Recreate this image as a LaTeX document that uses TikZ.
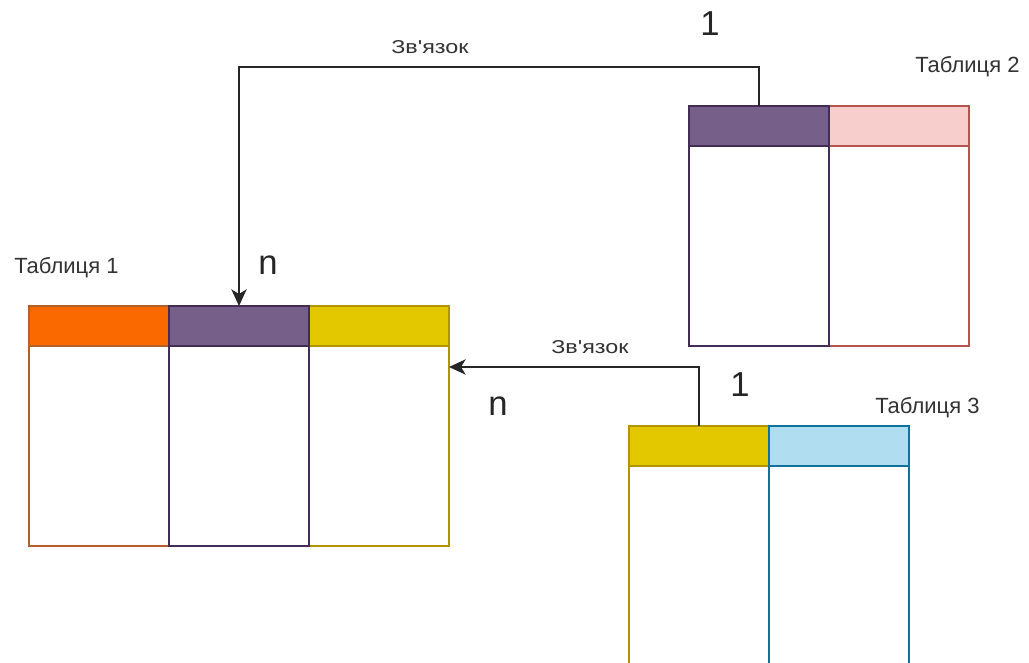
\documentclass[tikz,border=0pt]{standalone}
\usepackage{fontspec}
\setmainfont{Liberation Sans}
\newfontfamily\widesans{Liberation Sans}[FakeStretch=1.25]
\usetikzlibrary{arrows.meta}
\definecolor{orF}{HTML}{FA6800}
\definecolor{orS}{HTML}{B5602A}
\definecolor{puF}{HTML}{76608A}
\definecolor{puS}{HTML}{432D57}
\definecolor{yeF}{HTML}{E3C800}
\definecolor{yeS}{HTML}{B09500}
\definecolor{piF}{HTML}{F8CECC}
\definecolor{piS}{HTML}{B85450}
\definecolor{blF}{HTML}{B1DDF0}
\definecolor{blS}{HTML}{10739E}
\definecolor{txt}{HTML}{333333}
\begin{document}
\begin{tikzpicture}[x=0.75pt,y=-0.75pt,
  colbox/.style={draw, line width=0.9pt, minimum width=105pt, minimum height=150pt, anchor=north west, inner sep=0pt, outer sep=0pt},
  headbox/.style={draw, line width=0.9pt, minimum width=105pt, minimum height=30pt, anchor=north west, inner sep=0pt, outer sep=0pt},
  link/.style={draw=black!85, line width=1.2pt, -{Stealth[length=12.5pt,width=11.5pt,inset=3.5pt]}},
  tname/.style={text=txt, inner sep=0pt, font=\fontsize{16.5}{18}\selectfont},
  lbl/.style={text=txt, inner sep=0pt, font=\widesans\fontsize{14}{16}\selectfont},
  card/.style={text=black!85, inner sep=0pt, font=\fontsize{26}{28}\selectfont}]
\useasboundingbox (0,0) rectangle (1029,663);
\fill[white] (0,0) rectangle (1029,663);
% Table 1
\node[colbox, draw=orS] (t1b1) at (29,346) {};
\node[headbox, fill=orF, draw=orS] (t1h1) at (29,306) {};
\node[colbox, draw=yeS] (t1b3) at (309,346) {};
\node[headbox, fill=yeF, draw=yeS] (t1h3) at (309,306) {};
\node[colbox, draw=puS] (t1b2) at (169,346) {};
\node[headbox, fill=puF, draw=puS] (t1h2) at (169,306) {};
% Table 2
\node[colbox, draw=piS] (t2b2) at (829,146) {};
\node[headbox, fill=piF, draw=piS] (t2h2) at (829,106) {};
\node[colbox, draw=puS] (t2b1) at (689,146) {};
\node[headbox, fill=puF, draw=puS] (t2h1) at (689,106) {};
% Table 3
\node[colbox, draw=yeS] (t3b1) at (629,466) {};
\node[headbox, fill=yeF, draw=yeS] (t3h1) at (629,426) {};
\node[colbox, draw=blS] (t3b2) at (769,466) {};
\node[headbox, fill=blF, draw=blS] (t3h2) at (769,426) {};
% Labels
\node[tname, anchor=west] (l1) at (14,268) {Таблиця 1};
\node[tname, anchor=west] (l2) at (915,67) {Таблиця 2};
\node[tname, anchor=west] (l3) at (875,408) {Таблиця 3};
\node[lbl] (r1) at (430,47) {Зв\symbol{39}язок};
\node[lbl] (r2) at (590,347) {Зв\symbol{39}язок};
\node[card] (one1) at (710,24) {1};
\node[card] (one2) at (740,385) {1};
\node[card] (n1) at (268,265) {n};
\node[card] (n2) at (498,406) {n};
% Connectors
\draw[link] (t2h1.north) -- ++(0,-39) -| (t1h2.north);
\draw[link] (t3h1.north) -- ++(0,-59) coordinate (k2) -- (k2 -| t1b3.east);
\end{tikzpicture}
\end{document}
